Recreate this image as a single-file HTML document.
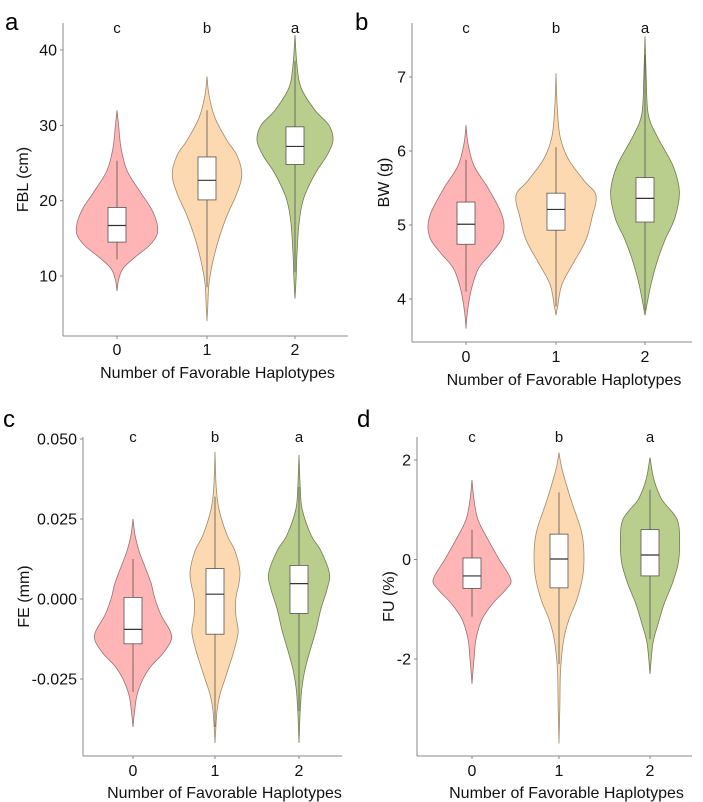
<!DOCTYPE html>
<html><head><meta charset="utf-8"><style>
body{margin:0;background:#fff}
svg{display:block;font-family:"Liberation Sans",sans-serif}
</style></head><body>
<svg id="fig" width="703" height="802" viewBox="0 0 703 802"></svg>
<script>
const categories=["0","1","2"];
const sigLetters=["c","b","a"];
// panel a: FBL
const aTicks=[10,20,30,40];
const aDens0=[[32,0],[30,0.04],[27,0.1],[24,0.25],[21,0.6],[19,0.85],[17,1.0],[15.5,1.0],[14,0.8],[12.5,0.45],[11,0.15],[9.5,0.04],[8,0]];
const aDens1=[[36.5,0],[34,0.05],[31,0.2],[28,0.5],[26,0.75],[23.5,0.87],[21,0.75],[18,0.5],[15,0.3],[12,0.15],[9,0.05],[6,0.02],[4,0]];
const aDens2=[[42,0],[38,0.05],[35,0.15],[32,0.5],[30,0.85],[28,0.95],[26,0.8],[24,0.55],[22,0.35],[20,0.2],[17,0.1],[13,0.05],[10,0.03],[7,0]];
const aBox=[[12.2,14.5,16.7,19.1,25.3],[8.5,20.1,22.7,25.8,32],[10.5,24.8,27.2,29.8,38.5]];
// panel b: BW
const bTicks=[4,5,6,7];
const bDens0=[[6.35,0],[6.1,0.05],[5.8,0.2],[5.5,0.55],[5.2,0.85],[5.0,0.95],[4.8,0.88],[4.6,0.6],[4.4,0.3],[4.1,0.12],[3.8,0.03],[3.6,0]];
const bDens1=[[7.05,0],[6.6,0.03],[6.2,0.1],[5.9,0.3],[5.6,0.7],[5.4,1.0],[5.1,0.9],[4.8,0.75],[4.5,0.45],[4.2,0.15],[3.9,0.04],[3.78,0]];
const bDens2=[[7.55,0],[7,0.03],[6.5,0.08],[6.2,0.3],[5.8,0.7],[5.45,0.86],[5.1,0.75],[4.8,0.5],[4.5,0.3],[4.2,0.15],[3.9,0.04],[3.78,0]];
const bBox=[[4.1,4.74,5.01,5.31,5.88],[3.9,4.93,5.21,5.43,6.05],[3.85,5.04,5.36,5.64,7.3]];
// panel c: FE
const cTicks=[-0.025,0,0.025,0.05];
const cTickLabels=["-0.025","0.000","0.025","0.050"];
const cDens0=[[0.025,0],[0.02,0.05],[0.015,0.15],[0.01,0.3],[0.005,0.45],[0,0.55],[-0.005,0.7],[-0.01,0.93],[-0.013,0.95],[-0.017,0.75],[-0.021,0.45],[-0.025,0.25],[-0.03,0.1],[-0.035,0.04],[-0.04,0]];
const cDens1=[[0.046,0],[0.035,0.03],[0.028,0.1],[0.02,0.3],[0.015,0.5],[0.009,0.62],[0.005,0.6],[0,0.52],[-0.005,0.52],[-0.01,0.58],[-0.015,0.5],[-0.02,0.38],[-0.025,0.25],[-0.03,0.12],[-0.035,0.05],[-0.045,0]];
const cDens2=[[0.045,0],[0.035,0.03],[0.028,0.08],[0.02,0.3],[0.015,0.55],[0.008,0.76],[0.003,0.7],[-0.003,0.55],[-0.01,0.42],[-0.016,0.28],[-0.022,0.15],[-0.028,0.07],[-0.035,0.03],[-0.045,0]];
const cBox=[[-0.029,-0.014,-0.0095,0.0005,0.0125],[-0.04,-0.011,0.0015,0.0095,0.032],[-0.035,-0.0045,0.0048,0.0105,0.035]];
// panel d: FU
const dTicks=[-2,0,2];
const dDens0=[[1.6,0],[1.2,0.05],[0.8,0.15],[0.4,0.4],[0,0.68],[-0.4,0.97],[-0.6,0.85],[-0.9,0.5],[-1.2,0.25],[-1.6,0.1],[-2.0,0.05],[-2.5,0]];
const dDens1=[[2.15,0],[1.8,0.08],[1.2,0.3],[0.6,0.55],[0.2,0.62],[-0.3,0.6],[-0.8,0.45],[-1.2,0.25],[-1.6,0.12],[-2.2,0.04],[-3.0,0.02],[-3.7,0]];
const dDens2=[[2.05,0],[1.6,0.1],[1.2,0.3],[0.8,0.68],[0.3,0.74],[-0.1,0.7],[-0.5,0.55],[-0.9,0.35],[-1.3,0.2],[-1.7,0.07],[-2.3,0]];
const dBox=[[-1.15,-0.58,-0.33,0.03,0.6],[-2.1,-0.57,0.01,0.51,1.35],[-1.6,-0.33,0.09,0.6,1.4]];

const fills=["#ffb5b5","#fcd9b0","#b9cd8d"];
const strokes=["#9a7070","#a08a6a","#6e7d50"];
const NS="http://www.w3.org/2000/svg";
const svg=document.getElementById('fig');
function mk(tag,attrs,parent){const e=document.createElementNS(NS,tag);for(const k in attrs)e.setAttribute(k,attrs[k]);(parent||svg).appendChild(e);return e;}

const panels=[
 {id:"a",letter:"a",lx:5,ly:30,x0:63,x1:348,yTop:23,yBot:336,cx:[117,207,295],vA:40,pA:50,vB:10,pB:276,ticks:aTicks,labels:aTicks.map(String),title:"FBL (cm)",tx:24,dens:[aDens0,aDens1,aDens2],box:aBox,sigY:33,tickY:355,xtY:378},
 {id:"b",letter:"b",lx:355,ly:30,x0:412,x1:692,yTop:23,yBot:342,cx:[466,556,645],vA:7,pA:77,vB:4,pB:299,ticks:bTicks,labels:bTicks.map(String),title:"BW (g)",tx:385,dens:[bDens0,bDens1,bDens2],box:bBox,sigY:33,tickY:362,xtY:385},
 {id:"c",letter:"c",lx:3,ly:427,x0:83,x1:342,yTop:437,yBot:756,cx:[133,215,299],vA:0.05,pA:439,vB:-0.025,pB:679,ticks:cTicks,labels:cTickLabels,title:"FE (mm)",tx:25,dens:[cDens0,cDens1,cDens2],box:cBox,sigY:442,tickY:776,xtY:798},
 {id:"d",letter:"d",lx:357,ly:427,x0:417,x1:692,yTop:437,yBot:756,cx:[472,559,650],vA:2,pA:460,vB:-2,pB:659,ticks:dTicks,labels:dTicks.map(String),title:"FU (%)",tx:390,dens:[dDens0,dDens1,dDens2],box:dBox,sigY:442,tickY:776,xtY:798}
];

function smoothPath(pts){
  let d="M"+pts[0][0]+","+pts[0][1];
  for(let i=0;i<pts.length-1;i++){
    const p0=pts[i-1]||pts[i],p1=pts[i],p2=pts[i+1],p3=pts[i+2]||p2;
    const c1=[p1[0]+(p2[0]-p0[0])/6,p1[1]+(p2[1]-p0[1])/6];
    const c2=[p2[0]-(p3[0]-p1[0])/6,p2[1]-(p3[1]-p1[1])/6];
    d+=" C"+c1[0].toFixed(1)+","+c1[1].toFixed(1)+" "+c2[0].toFixed(1)+","+c2[1].toFixed(1)+" "+p2[0].toFixed(1)+","+p2[1].toFixed(1);
  }
  return d;
}

panels.forEach(P=>{
  const g=mk('g',{});
  
  
  const y=v=>P.pA+(P.vA-v)*(P.pB-P.pA)/(P.vA-P.vB);
  const W=40;
  P.dens.forEach((dens,i)=>{
    const cx=P.cx[i];
    const right=dens.map(p=>[cx+p[1]*W,y(p[0])]);
    const left=dens.slice().reverse().map(p=>[cx-p[1]*W,y(p[0])]);
    const d=smoothPath(right)+" "+smoothPath(left).replace("M","L")+" Z";
    const v=mk('path',{d:d,fill:fills[i],stroke:strokes[i],'stroke-width':0.8},g);
    
    
    const b=P.box[i];
    const w=mk('line',{x1:cx,x2:cx,y1:y(b[0]),y2:y(b[4]),stroke:'#555','stroke-width':0.8},g);
    
    
    const r=mk('rect',{x:cx-9,y:y(b[3]),width:18,height:y(b[1])-y(b[3]),fill:'#fff',stroke:'#555','stroke-width':0.8},g);
    
    
    const m=mk('line',{x1:cx-9,x2:cx+9,y1:y(b[2]),y2:y(b[2]),stroke:'#333','stroke-width':1.2},g);
    
    
    const s=mk('text',{x:cx,y:P.sigY,'text-anchor':'middle','font-size':15,fill:'#111'},g);
    s.textContent=sigLetters[i];
    
    
    const tk=mk('line',{x1:cx,x2:cx,y1:P.yBot,y2:P.yBot+3,stroke:'#888'},g);
    
    
    const tl=mk('text',{x:cx,y:P.tickY,'text-anchor':'middle','font-size':16,fill:'#111'},g);
    tl.textContent=categories[i];
    
    
  });
  const ya=mk('line',{x1:P.x0,x2:P.x0,y1:P.yTop,y2:P.yBot,stroke:'#888','stroke-width':1},g);
  
  
  const xa=mk('line',{x1:P.x0,x2:P.x1,y1:P.yBot,y2:P.yBot,stroke:'#888','stroke-width':1},g);
  
  
  P.ticks.forEach((t,k)=>{
    const tk=mk('line',{x1:P.x0-3,x2:P.x0,y1:y(t),y2:y(t),stroke:'#888'},g);
    
    
    const tl=mk('text',{x:P.x0-6,y:y(t)+5.5,'text-anchor':'end','font-size':16,fill:'#111'},g);
    tl.textContent=P.labels[k];
    
    
  });
  const yt=mk('text',{x:P.tx,y:(P.yTop+P.yBot)/2,'text-anchor':'middle','font-size':16,fill:'#111',transform:'rotate(-90 '+P.tx+' '+((P.yTop+P.yBot)/2)+')','dominant-baseline':'middle'},g);
  yt.textContent=P.title;
  
  
  const xt=mk('text',{x:(P.x0+P.x1)/2+12,y:P.xtY,'text-anchor':'middle','font-size':16,fill:'#111'},g);
  xt.textContent="Number of Favorable Haplotypes";
  
  
  const pl=mk('text',{x:P.lx,y:P.ly,'font-size':24,fill:'#000'},g);
  pl.textContent=P.letter;
  
  
});
</script>
</body></html>
